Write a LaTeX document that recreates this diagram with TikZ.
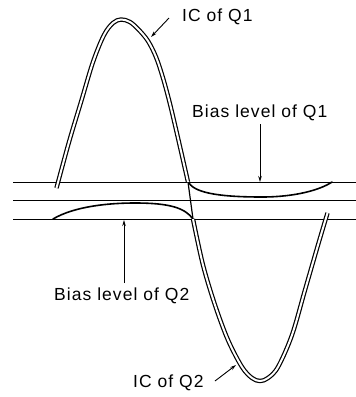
\documentclass[tikz,border=0pt]{standalone}
\usepackage{fontspec}
\setmainfont{Liberation Sans}
\usetikzlibrary{arrows.meta}
\begin{document}
\begin{tikzpicture}[x=1pt,y=-1pt,
  lbl/.style={font=\fontsize{17.5}{20}\selectfont\addfontfeatures{LetterSpace=6}, inner sep=0pt, anchor=base west},
  wave/.style={draw=black, double=white, double distance=2pt, line width=1.2pt, line cap=butt},
  hline/.style={line width=0.9pt},
  bias/.style={line width=1.6pt, line cap=round},
  ptr/.style={line width=0.9pt, -{Stealth[length=6pt,width=3.5pt]}}]
\useasboundingbox (0,0) rectangle (356,397);

% horizontal reference lines
\coordinate (l1a) at (13,182); \coordinate (l1b) at (356,182);
\coordinate (l2a) at (13,200); \coordinate (l2b) at (356,200);
\coordinate (l3a) at (13,219); \coordinate (l3b) at (356,219);
\draw[hline] (l1a) -- (l1b);
\draw[hline] (l2a) -- (l2b);
\draw[hline] (l3a) -- (l3b);

% junction points
\coordinate (j1) at (188,182);
\coordinate (j2) at (193,219);

% bias curves
\draw[bias] (189,183) .. controls (196,194) and (225,197) .. (262,197)
  .. controls (295,197) and (320,190) .. (332,182);
\draw[bias] (53,219) .. controls (75,206) and (110,203) .. (135,203)
  .. controls (170,203) and (185,208) .. (193,219);

% single crossing stroke
\draw[line width=1.2pt] (j1) -- (j2);

% collector current waves
\draw[wave] plot[smooth, tension=0.55] coordinates {(56.5,188) (69,142) (81,102) (93,62) (104,35) (113,23) (121,19.5) (130,22) (139,30) (148,41) (156,57) (163,78) (170,104) (178,138) (188,182)};
\draw[wave] plot[smooth, tension=0.55] coordinates {(193,219) (203,265) (215,305) (228,340) (242,367) (252,378) (260,381) (268,378) (278,367) (292,335) (305,290) (318,245) (327.5,213)};

% labels
\node[lbl] (icq1) at (182,21) {IC of Q1};
\node[lbl] (bq1) at (192,117) {Bias level of Q1};
\node[lbl] (bq2) at (54,300) {Bias level of Q2};
\node[lbl] (icq2) at (133,387) {IC of Q2};

% pointers
\coordinate (p1s) at (169,18); \coordinate (p1e) at (151,37);
\coordinate (p2s) at (260,124); \coordinate (p2e) at (260,182);
\coordinate (p3s) at (124,283); \coordinate (p3e) at (124,220);
\coordinate (p4s) at (215,381); \coordinate (p4e) at (236,365);
\draw[ptr] (p1s) -- (p1e);
\draw[ptr] (p2s) -- (p2e);
\draw[ptr] (p3s) -- (p3e);
\draw[ptr] (p4s) -- (p4e);
\end{tikzpicture}
\end{document}
